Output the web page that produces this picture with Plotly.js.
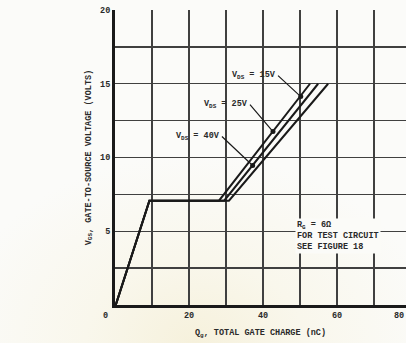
<!DOCTYPE html>
<html>
<head>
<meta charset="utf-8">
<script src="https://cdn.plot.ly/plotly-3.0.1.min.js"></script>
<style>
html,body{margin:0;padding:0;}
body{width:406px;height:343px;overflow:hidden;
background: radial-gradient(ellipse 60% 55% at 48% 100%, #f6f1dc 0%, #f9f7ec 45%, #fbfbf9 100%);}
#chart{width:406px;height:343px;}
</style>
</head>
<body>
<div id="chart"></div>
<script>
// Gate charge curves (Qg in nC, VGS in volts)
const seriesNames = ['VDS = 15V', 'VDS = 25V', 'VDS = 40V'];
const qg15 = [0.2, 9.3, 28.1, 52.7];
const vgs15 = [0, 7.07, 7.07, 15];
const qg25 = [0.2, 9.3, 29.5, 54.9];
const vgs25 = [0, 7.07, 7.07, 15];
const qg40 = [0.2, 9.3, 30.8, 57.6];
const vgs40 = [0, 7.07, 7.07, 15];

// marker dots where the label leaders touch the curves
const dotQ = [50.2, 42.7, 37.2];
const dotV = [14.13, 11.76, 9.46];
const dotLabels = ['V<sub>DS</sub> = 15V', 'V<sub>DS</sub> = 25V', 'V<sub>DS</sub> = 40V'];

// axes
const yTickVals = [5, 10, 15, 20];
const yTickText = ['5', '10', '15', '20'];
const xTickVals = [20, 40, 60];
const xTickText = ['20', '40', '60'];

const ink = '#1a1a1a';
const gridC = '#404040';
const fnt = {family: '"Liberation Mono", "DejaVu Sans Mono", monospace', size: 8.5, color: '#2a2a2a', weight: 'bold'};

const lineStyle = {color: ink, width: 2};
const traces = [
  {x: qg15, y: vgs15, name: seriesNames[0], mode: 'lines', line: lineStyle, hoverinfo: 'skip'},
  {x: qg25, y: vgs25, name: seriesNames[1], mode: 'lines', line: lineStyle, hoverinfo: 'skip'},
  {x: qg40, y: vgs40, name: seriesNames[2], mode: 'lines', line: lineStyle, hoverinfo: 'skip'},
  {x: dotQ, y: dotV, mode: 'markers', marker: {color: ink, size: 5}, hoverinfo: 'skip'}
];

// leader tail offsets (pixels) from each dot to the label's right end
const leaderOff = [[-22.7, -21], [-23, -27], [-30.7, -29]];

const annotations = [];
for (let i = 0; i < 3; i++) {
  annotations.push({x: dotQ[i], y: dotV[i], xref: 'x', yref: 'y', text: dotLabels[i],
    showarrow: true, arrowhead: 0, arrowwidth: 1.2, arrowcolor: ink, standoff: 0,
    ax: leaderOff[i][0], ay: leaderOff[i][1], xanchor: 'right', yanchor: 'middle',
    font: Object.assign({}, fnt, {size: 8.5})});
}
annotations.push({x: 48.6, y: 5.92, xref: 'x', yref: 'y', xanchor: 'left', yanchor: 'top', align: 'left',
  text: 'R<sub>G</sub> = 6Ω<br>FOR TEST CIRCUIT<br>SEE FIGURE 18', showarrow: false,
  bgcolor: '#fbfbf8', font: Object.assign({}, fnt, {size: 8.5})});
annotations.push({x: 0, y: 0, xref: 'paper', yref: 'paper', text: '0', showarrow: false,
  xanchor: 'center', yanchor: 'top', xshift: -10, yshift: -4, font: fnt});
annotations.push({x: 1, y: 0, xref: 'paper', yref: 'paper', text: '80', showarrow: false,
  xanchor: 'right', yanchor: 'top', yshift: -4, font: fnt});

const layout = {
  width: 406, height: 343,
  margin: {l: 115, r: 0, t: 10, b: 37.5, pad: 0},
  paper_bgcolor: 'rgba(0,0,0,0)', plot_bgcolor: 'rgba(0,0,0,0)',
  showlegend: false,
  font: fnt,
  xaxis: {range: [0, 78.65], tickvals: xTickVals, ticktext: xTickText, showgrid: true,
    gridcolor: gridC, gridwidth: 1.3, zeroline: false, showline: true, linecolor: ink, linewidth: 2.5,
    minor: {tick0: 0, dtick: 10, showgrid: true, gridcolor: gridC, gridwidth: 1.3, ticks: ''},
    ticks: '', tickfont: fnt, fixedrange: true,
    title: {text: 'Q<sub>g</sub>, TOTAL GATE CHARGE (nC)', font: fnt, standoff: 10}},
  yaxis: {range: [0, 20], tickvals: yTickVals, ticktext: yTickText, showgrid: true,
    gridcolor: gridC, gridwidth: 1.3, zeroline: false, showline: true, linecolor: ink, linewidth: 3,
    minor: {tick0: 0, dtick: 2.5, showgrid: true, gridcolor: gridC, gridwidth: 1.3, ticks: ''},
    ticks: '', tickfont: fnt, fixedrange: true, ticklabelstandoff: 0,
    title: {text: 'V<sub>GS</sub>, GATE-TO-SOURCE VOLTAGE (VOLTS)', font: fnt, standoff: 8}},
  annotations: annotations
};

Plotly.newPlot('chart', traces, layout, {staticPlot: true, displayModeBar: false});
</script>
</body>
</html>
